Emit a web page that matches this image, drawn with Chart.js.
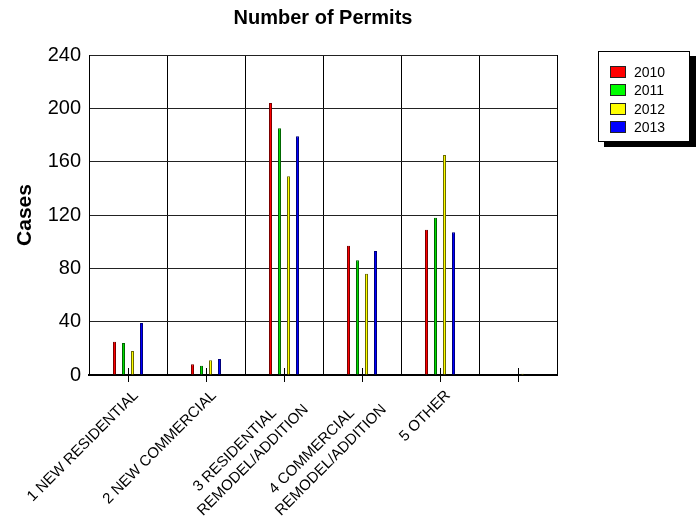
<!DOCTYPE html>
<html>
<head>
<meta charset="utf-8">
<script src="https://cdn.jsdelivr.net/npm/chart.js@4/dist/chart.umd.min.js"></script>
<style>
  body { margin: 0; background: #fff; font-family: "Liberation Sans", Arial, sans-serif; }
  #wrap { position: relative; width: 698px; height: 518px; }
  #legend { position: absolute; left: 598px; top: 51px; width: 92px; height: 91px; box-sizing: border-box;
            border: 1px solid #000; background: #fff; box-shadow: 6px 5px 0 #000; }
  .item { position: absolute; left: 11px; height: 12px; font-size: 14px; line-height: 12px; white-space: nowrap; }
  .sw { position: absolute; left: 0; top: 0; width: 14px; height: 10px; border: 1px solid #222; }
  .item span { position: absolute; left: 24px; top: 0; }
</style>
</head>
<body>
<div id="wrap">
  <canvas id="permits" width="698" height="518"></canvas>
  <div id="legend"></div>
</div>
<script>
// categorias y series
// (los espacios finales centran la linea corta sobre la larga)
const categories = [
  ['1 NEW RESIDENTIAL'],
  ['2 NEW COMMERCIAL'],
  ['3 RESIDENTIAL      ', 'REMODEL/ADDITION'],
  ['4 COMMERCIAL      ', 'REMODEL/ADDITION'],
  ['5 OTHER'],
  ''
];
const years = ['2010', '2011', '2012', '2013'];
const cases2010 = [25, 8, 204, 97, 109, 0];
const cases2011 = [24, 7, 185, 86, 118, 0];
const cases2012 = [18, 11, 149, 76, 165, 1];
const cases2013 = [39, 12, 179, 93, 107, 0];
const yTicks = [0, 40, 80, 120, 160, 200, 240];

const fills   = ['#ff0000', '#00dd00', '#ffff00', '#0000ff'];
const borders = ['#7a0000', '#006600', '#6b6b00', '#00007a'];
const series  = [cases2010, cases2011, cases2012, cases2013];

// MARK: leyenda en HTML con sombra
const legendEl = document.getElementById('legend');
years.forEach((y, i) => {
  const it = document.createElement('div');
  it.className = 'item';
  it.style.top = (14 + i * 18.3) + 'px';
  it.innerHTML = '<div class="sw" style="background:' + (i === 1 ? '#00ff00' : fills[i]) + '"></div><span>' + y + '</span>';
  legendEl.appendChild(it);
});

// MARK: marcas cruzadas en el centro de cada categoria
const centerTicks = {
  id: 'centerTicks',
  afterDatasetsDraw(chart) {
    const x = chart.scales.x, ctx = chart.ctx;
    const yb = chart.chartArea.bottom;
    ctx.save();
    ctx.strokeStyle = '#000';
    ctx.lineWidth = 1;
    categories.forEach((c, i) => {
      const px = Math.round(x.getPixelForValue(i)) + 0.5;
      ctx.beginPath();
      ctx.moveTo(px, yb - 7);
      ctx.lineTo(px, yb + 7);
      ctx.stroke();
    });
    ctx.restore();
  }
};

Chart.defaults.font.family = '"Liberation Sans", Arial, sans-serif';
Chart.defaults.color = '#000';

new Chart(document.getElementById('permits').getContext('2d'), {
  type: 'bar',
  data: {
    labels: categories,
    datasets: years.map((y, i) => ({
      label: y,
      data: series[i],
      backgroundColor: fills[i],
      borderColor: borders[i],
      borderWidth: { left: 1, right: 1, top: 1, bottom: 0 },
      categoryPercentage: 36 / 78,
      barPercentage: 1 / 3
    }))
  },
  options: {
    responsive: false,
    devicePixelRatio: 1,
    animation: false,
    layout: { padding: { left: 0, right: 141, top: 0, bottom: 0 } },
    plugins: {
      legend: { display: false },
      tooltip: { enabled: false },
      title: {
        display: true,
        text: 'Number of Permits',
        fullSize: false,
        font: { size: 20, weight: 'bold' },
        padding: { top: 6, bottom: 25 }
      }
    },
    scales: {
      x: {
        grid: { color: '#000', lineWidth: 1, drawTicks: false, offset: true },
        border: { color: '#000', width: 2 },
        ticks: { font: { size: 15, lineHeight: 1.33 }, minRotation: 45, maxRotation: 45, autoSkip: false,
                 padding: 11, labelOffset: 8 },
        afterFit(s) { s.height = 143; }
      },
      y: {
        min: 0, max: 240,
        grid: { color: '#222', lineWidth: 1, drawTicks: false },
        border: { color: '#000', width: 1 },
        afterBuildTicks(s) { s.ticks = yTicks.map(v => ({ value: v })); },
        ticks: { font: { size: 20 }, padding: 8 },
        title: { display: true, text: 'Cases', font: { size: 21, weight: 'bold' }, padding: { top: 13, bottom: 0 } },
        afterFit(s) { s.width = 89; }
      }
    }
  },
  plugins: [centerTicks]
});
</script>
</body>
</html>
